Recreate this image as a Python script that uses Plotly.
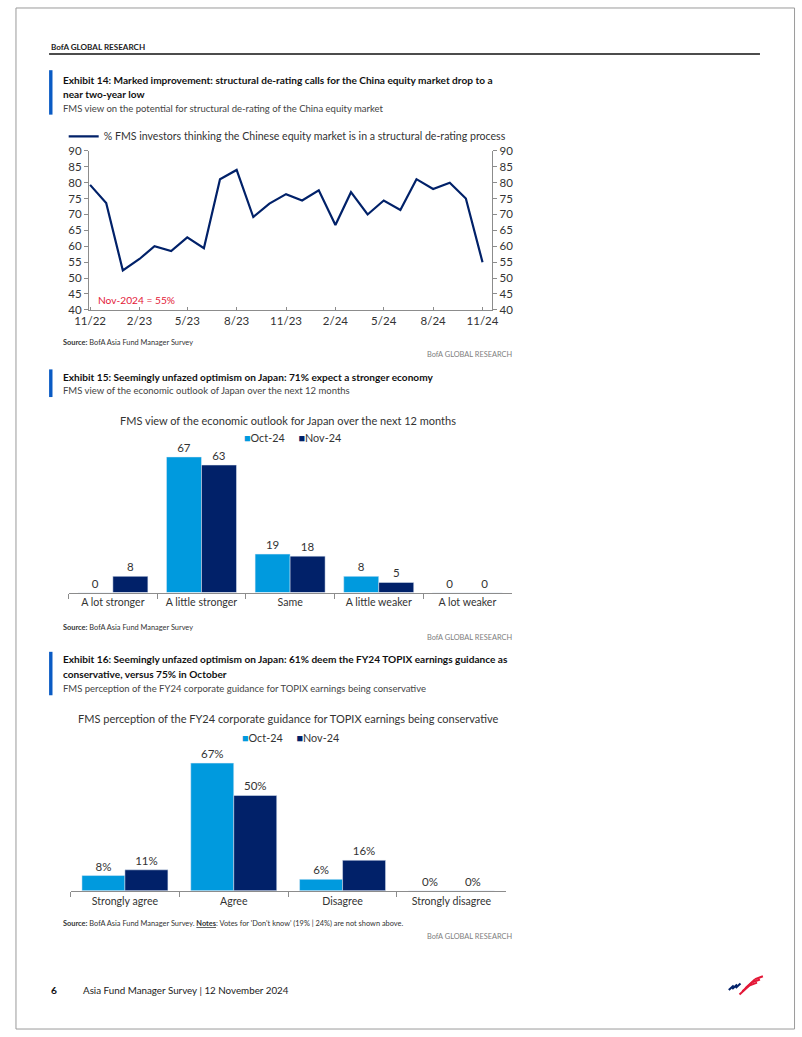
import plotly.graph_objects as go

W, H = 802, 1037


def px(x):
    return x / W


def py(y):
    return 1 - y / H


FONT = "Lato, Roboto, Liberation Sans, sans-serif"
NAVY = "#012169"
LIGHT = "#009ADE"
RED = "#E31837"
BLUE_BAR = "#0A5BC4"
AXIS = "#8C8C8C"
TXT = "#333333"

# ---------------- data ----------------
months = [
    "2022-11-01", "2022-12-01", "2023-01-01", "2023-02-01", "2023-03-01",
    "2023-04-01", "2023-05-01", "2023-06-01", "2023-07-01", "2023-08-01",
    "2023-09-01", "2023-10-01", "2023-11-01", "2023-12-01", "2024-01-01",
    "2024-02-01", "2024-03-01", "2024-04-01", "2024-05-01", "2024-06-01",
    "2024-07-01", "2024-08-01", "2024-09-01", "2024-10-01", "2024-11-01",
]
derating_pct = [79.3, 73.6, 52.4, 56.0, 60.0, 58.5, 62.8, 59.4, 81.1, 84.0,
                69.2, 73.4, 76.4, 74.4, 77.6, 66.7, 77.0, 70.0, 74.4, 71.4,
                81.1, 78.0, 80.0, 75.0, 55.0]
line_tick_vals = ["2022-11-01", "2023-02-01", "2023-05-01", "2023-08-01", "2023-11-01",
                  "2024-02-01", "2024-05-01", "2024-08-01", "2024-11-01"]
line_tick_text = ["11/22", "2/23", "5/23", "8/23", "11/23", "2/24", "5/24", "8/24", "11/24"]

econ_categories = ["A lot stronger", "A little stronger", "Same", "A little weaker", "A lot weaker"]
econ_oct24 = [0, 67, 19, 8, 0]
econ_nov24 = [8, 63, 18, 5, 0]

topix_categories = ["Strongly agree", "Agree", "Disagree", "Strongly disagree"]
topix_oct24 = [8, 67, 6, 0]
topix_nov24 = [11, 50, 16, 0]

fig = go.Figure()

# ---------------- Exhibit 14: line chart ----------------
fig.add_trace(go.Scatter(
    x=months, y=derating_pct, mode="lines",
    name="% FMS investors thinking the Chinese equity market is in a structural de-rating process",
    line=dict(color=NAVY, width=2.2), xaxis="x", yaxis="y", legend="legend",
))
fig.add_trace(go.Scatter(
    x=months, y=derating_pct, mode="lines", showlegend=False, hoverinfo="skip",
    line=dict(color="rgba(0,0,0,0)", width=0), xaxis="x", yaxis="y2",
))

LBL = dict(size=11.5, color=TXT, family=FONT)

# ---------------- Exhibit 15: bar chart ----------------
fig.add_trace(go.Bar(
    x=econ_categories, y=econ_oct24, name="Oct-24", marker_color=LIGHT,
    text=econ_oct24, textposition="outside", cliponaxis=False, textfont=LBL,
    xaxis="x2", yaxis="y3", showlegend=False,
))
fig.add_trace(go.Bar(
    x=econ_categories, y=econ_nov24, name="Nov-24", marker_color=NAVY,
    text=econ_nov24, textposition="outside", cliponaxis=False, textfont=LBL,
    xaxis="x2", yaxis="y3", showlegend=False,
))

# ---------------- Exhibit 16: bar chart ----------------
fig.add_trace(go.Bar(
    x=topix_categories, y=topix_oct24, name="Oct-24", marker_color=LIGHT,
    texttemplate="%{y}%", textposition="outside", cliponaxis=False, textfont=LBL,
    xaxis="x3", yaxis="y4", showlegend=False,
))
fig.add_trace(go.Bar(
    x=topix_categories, y=topix_nov24, name="Nov-24", marker_color=NAVY,
    texttemplate="%{y}%", textposition="outside", cliponaxis=False, textfont=LBL,
    xaxis="x3", yaxis="y4", showlegend=False,
))

tickfont = dict(size=11.5, color=TXT, family=FONT)
catfont = dict(size=10.6, color=TXT, family=FONT)

fig.update_layout(
    width=W, height=H, autosize=False,
    margin=dict(l=0, r=0, t=0, b=0),
    paper_bgcolor="white", plot_bgcolor="white",
    font=dict(family=FONT, color=TXT),
    barmode="group", bargap=0.21, bargroupgap=0,
    xaxis=dict(
        domain=[px(76), px(490)], anchor="y", type="date",
        range=["2022-10-30", "2024-11-19"],
        tickvals=line_tick_vals, ticktext=line_tick_text,
        showline=True, linecolor=AXIS, linewidth=1, ticks="inside", ticklen=3,
        tickcolor=AXIS, showgrid=False, zeroline=False, tickfont=tickfont,
    ),
    yaxis=dict(
        domain=[py(306.7), py(145.7)], anchor="x", range=[40, 90], dtick=5,
        showline=True, linecolor=AXIS, linewidth=1, ticks="outside", ticklen=4,
        tickcolor=AXIS, showgrid=False, zeroline=False, tickfont=tickfont,
    ),
    yaxis2=dict(
        overlaying="y", side="right", anchor="x", range=[40, 90], dtick=5,
        showline=True, linecolor=AXIS, linewidth=1, ticks="outside", ticklen=4,
        tickcolor=AXIS, showgrid=False, zeroline=False, tickfont=tickfont,
    ),
    xaxis2=dict(
        domain=[px(55), px(510)], anchor="y3", type="category",
        showline=True, linecolor=AXIS, linewidth=1, ticks="outside",
        tickson="boundaries", ticklen=5, tickcolor=AXIS, showgrid=False,
        tickangle=0, tickfont=catfont,
    ),
    yaxis3=dict(domain=[py(593), py(593 - 164)], anchor="x2", range=[0, 80], visible=False),
    xaxis3=dict(
        domain=[px(57), px(504)], anchor="y4", type="category",
        showline=True, linecolor=AXIS, linewidth=1, ticks="outside",
        tickson="boundaries", ticklen=5, tickcolor=AXIS, showgrid=False,
        tickangle=0, tickfont=catfont,
    ),
    yaxis4=dict(domain=[py(895), py(895 - 154.4)], anchor="x3", range=[0, 80], visible=False),
    legend=dict(
        x=px(50), y=py(131), xanchor="left", yanchor="middle",
        font=dict(size=10.6, color=TXT, family=FONT), bgcolor="rgba(0,0,0,0)",
        borderwidth=0,
    ),
    showlegend=True,
)

ann = []


def text(x, y, s, size=12, color=TXT, anchor="left", **kw):
    ann.append(dict(x=px(x), y=py(y), xref="paper", yref="paper", text=s,
                    showarrow=False, xanchor=anchor, yanchor="middle",
                    font=dict(size=size, color=color, family=FONT), **kw))


TSZ = 10.1   # exhibit title size
SSZ = 9.5    # exhibit subtitle size
SRC = 7.4

# header
text(35, 41, "<b>BofA GLOBAL RESEARCH</b>", size=8.1, color="#222")

# Exhibit 14
text(47, 73.5, "<b>Exhibit 14: Marked improvement: structural de-rating calls for the China equity market drop to a</b>", size=TSZ, color="#111")
text(47, 88.5, "<b>near two-year low</b>", size=TSZ, color="#111")
text(47, 102.5, "FMS view on the potential for structural de-rating of the China equity market", size=SSZ, color="#444")
text(83, 297, "Nov-2024 = 55%", size=10.2, color=RED)
text(47, 340, "<b>Source:</b> BofA Asia Fund Manager Survey", size=SRC, color="#333")
text(512, 352, "BofA GLOBAL RESEARCH", size=SRC, color="#808080", anchor="right")

# Exhibit 15
text(47, 374.5, "<b>Exhibit 15: Seemingly unfazed optimism on Japan: 71% expect a stronger economy</b>", size=TSZ, color="#111")
text(47, 388.5, "FMS view of the economic outlook of Japan over the next 12 months", size=SSZ, color="#444")
text(280, 419, "FMS view of the economic outlook for Japan over the next 12 months", size=11.0, color=TXT, anchor="center")
text(285, 436, f"<span style='color:{LIGHT}'>■</span>Oct-24     <span style='color:{NAVY}'>■</span>Nov-24", size=10.8, color=TXT, anchor="center")
text(47, 628, "<b>Source:</b> BofA Asia Fund Manager Survey", size=SRC, color="#333")
text(512, 639, "BofA GLOBAL RESEARCH", size=SRC, color="#808080", anchor="right")

# Exhibit 16
text(47, 660.5, "<b>Exhibit 16: Seemingly unfazed optimism on Japan: 61% deem the FY24 TOPIX earnings guidance as</b>", size=TSZ, color="#111")
text(47, 675.5, "<b>conservative, versus 75% in October</b>", size=TSZ, color="#111")
text(47, 690, "FMS perception of the FY24 corporate guidance for TOPIX earnings being conservative", size=SSZ, color="#444")
text(281, 721, "FMS perception of the FY24 corporate guidance for TOPIX earnings being conservative", size=11.0, color=TXT, anchor="center")
text(283, 740, f"<span style='color:{LIGHT}'>■</span>Oct-24     <span style='color:{NAVY}'>■</span>Nov-24", size=10.8, color=TXT, anchor="center")
text(47, 928, "<b>Source:</b> BofA Asia Fund Manager Survey. <b><u>Notes</u></b>: Votes for 'Don't know' (19% | 24%) are not shown above.", size=SRC, color="#333")
text(512, 941, "BofA GLOBAL RESEARCH", size=SRC, color="#808080", anchor="right")

# footer
text(35, 995, "<b>6</b>", size=10.2, color="#111")
text(68, 995, "Asia Fund Manager Survey | 12 November 2024", size=9.8, color="#222")

shapes = []


def rect(x0, y0, x1, y1, fill=None, line=None, lw=1):
    shapes.append(dict(type="rect", xref="paper", yref="paper",
                       x0=px(x0), x1=px(x1), y0=py(y0), y1=py(y1),
                       fillcolor=fill or "rgba(0,0,0,0)",
                       line=dict(color=line or "rgba(0,0,0,0)", width=lw if line else 0)))


def seg(x0, y0, x1, y1, color, w):
    shapes.append(dict(type="line", xref="paper", yref="paper",
                       x0=px(x0), x1=px(x1), y0=py(y0), y1=py(y1),
                       line=dict(color=color, width=w)))


# page border
rect(1, 1, 800.5, 1035, line="#9A9A9A", lw=1)
# header rule
seg(35, 47.5, 765, 47.5, "#111", 1.5)
# exhibit markers
rect(35, 64, 38.5, 109, fill=BLUE_BAR)
rect(35, 367, 38.5, 395, fill=BLUE_BAR)
rect(35, 653, 38.5, 697, fill=BLUE_BAR)

# logo (approximate flag stripes)
for i in range(3):
    seg(733 + 3.5 * i, 995.5 - 1.0 * i, 738 + 3.5 * i, 991 - 1.0 * i, NAVY, 2.0)
for i in range(3):
    seg(744 + 3.0 * i, 1000 - 3.2 * i, 754 + 3.0 * i, 991 - 3.2 * i, RED, 2.0)
    seg(754 + 3.0 * i, 991 - 3.2 * i, 762 + 3.0 * i, 988 - 3.2 * i, RED, 2.0)

fig.update_layout(annotations=ann, shapes=shapes)

fig.write_html(
    "out.html",
    config={"displayModeBar": False},
    post_script="document.body.style.margin='0';document.body.style.overflow='hidden';",
)
